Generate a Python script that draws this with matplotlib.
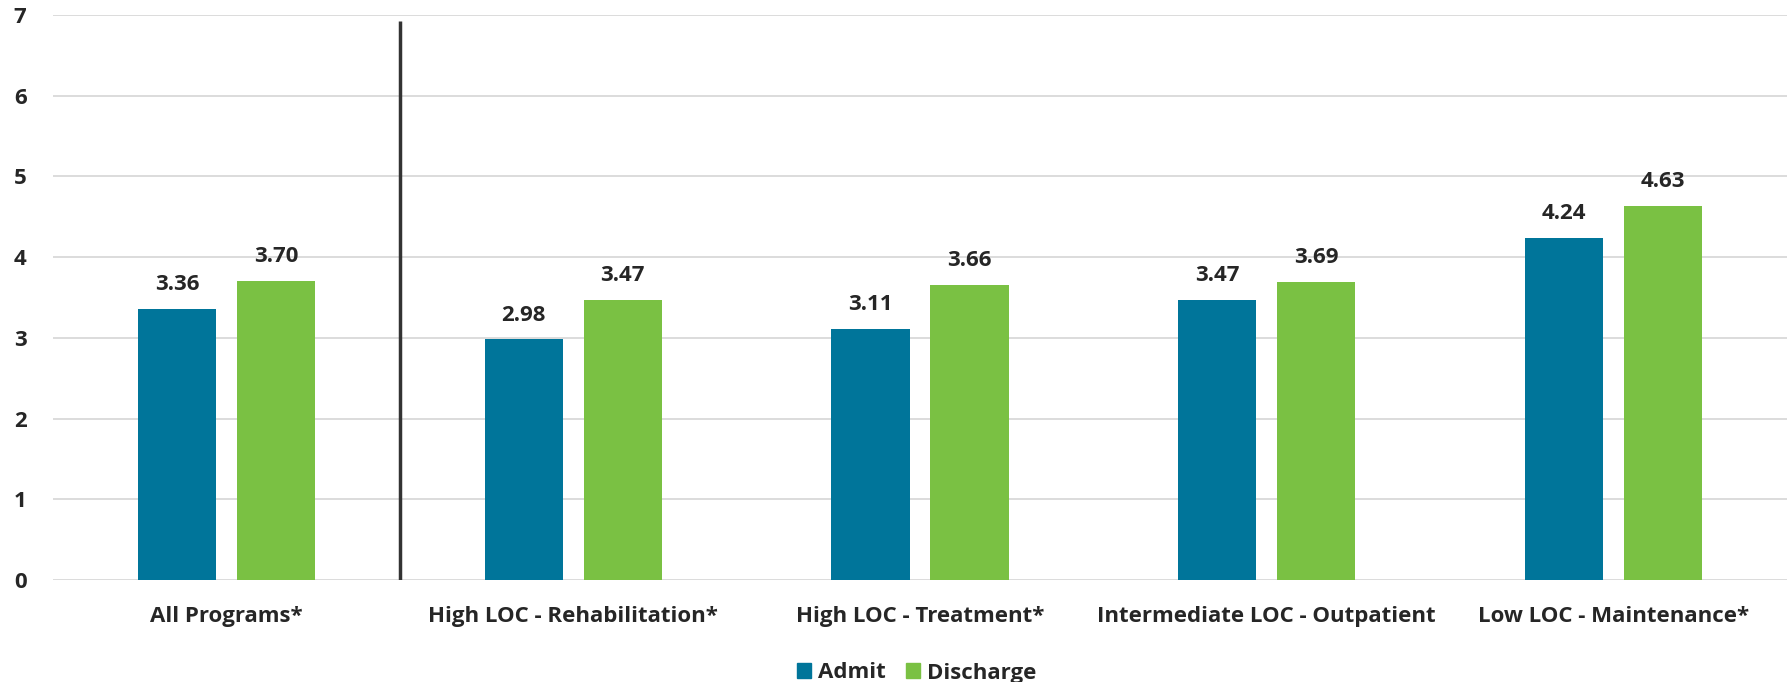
import matplotlib
matplotlib.use("Agg")
import matplotlib.pyplot as plt
import numpy as np
from matplotlib.patches import Patch

plt.rcParams['font.family'] = ['Open Sans', 'DejaVu Sans']

categories = ["All Programs*", "High LOC - Rehabilitation*", "High LOC - Treatment*",
              "Intermediate LOC - Outpatient", "Low LOC - Maintenance*"]
admit = [3.36, 2.98, 3.11, 3.47, 4.24]
discharge = [3.70, 3.47, 3.66, 3.69, 4.63]
series_names = ["Admit", "Discharge"]
yticks = [0, 1, 2, 3, 4, 5, 6, 7]

admit_color = "#00759A"
discharge_color = "#7AC143"
text_color = "#262626"
fs = 16

fig = plt.figure(figsize=(17.87, 6.82), dpi=100)
ax = fig.add_axes([53 / 1787, 1 - 580 / 682, 1 - 53 / 1787, (580 - 15) / 682])

x = np.arange(len(categories))
width = 0.225
offset = 0.1427

b1 = ax.bar(x - offset, admit, width, color=admit_color, zorder=3)
b2 = ax.bar(x + offset, discharge, width, color=discharge_color, zorder=3)

for bars, vals in ((b1, admit), (b2, discharge)):
    for rect, v in zip(bars, vals):
        ax.annotate(f"{v:.2f}", (rect.get_x() + rect.get_width() / 2, v),
                    xytext=(0, 10), textcoords="offset points",
                    ha="center", va="bottom", fontsize=fs, fontweight="bold",
                    color=text_color)

# separator between the overall figure and the individual programs
ax.plot([0.5, 0.5], [0, 6.92], color="#333333", lw=2.5, zorder=4,
        solid_capstyle="butt")

ax.set_xlim(-0.5, len(categories) - 0.5)
ax.set_ylim(0, 7)
ax.set_yticks(yticks)
ax.set_yticklabels([str(t) for t in yticks])
ax.set_xticks(x)
ax.set_xticklabels(categories)
ax.yaxis.grid(True, color="#D9D9D9", lw=1.3, zorder=0)
ax.set_axisbelow(True)
for s in ax.spines.values():
    s.set_visible(False)
ax.tick_params(axis="y", length=0, pad=19, labelsize=fs, labelcolor=text_color)
ax.tick_params(axis="x", length=0, pad=19, labelsize=fs, labelcolor=text_color)
for lab in ax.get_yticklabels() + ax.get_xticklabels():
    lab.set_fontweight("bold")

handles = [Patch(color=admit_color), Patch(color=discharge_color)]
fig.legend(handles, series_names, loc="center",
           bbox_to_anchor=((53 + 1787) / 2 / 1787 - 0.002, 9 / 682),
           ncol=2, frameon=False, handlelength=0.65, handleheight=0.65,
           handletextpad=0.3, columnspacing=0.9,
           prop={"weight": "bold", "size": fs}, labelcolor=text_color)

fig.savefig("out.png", dpi=100)
